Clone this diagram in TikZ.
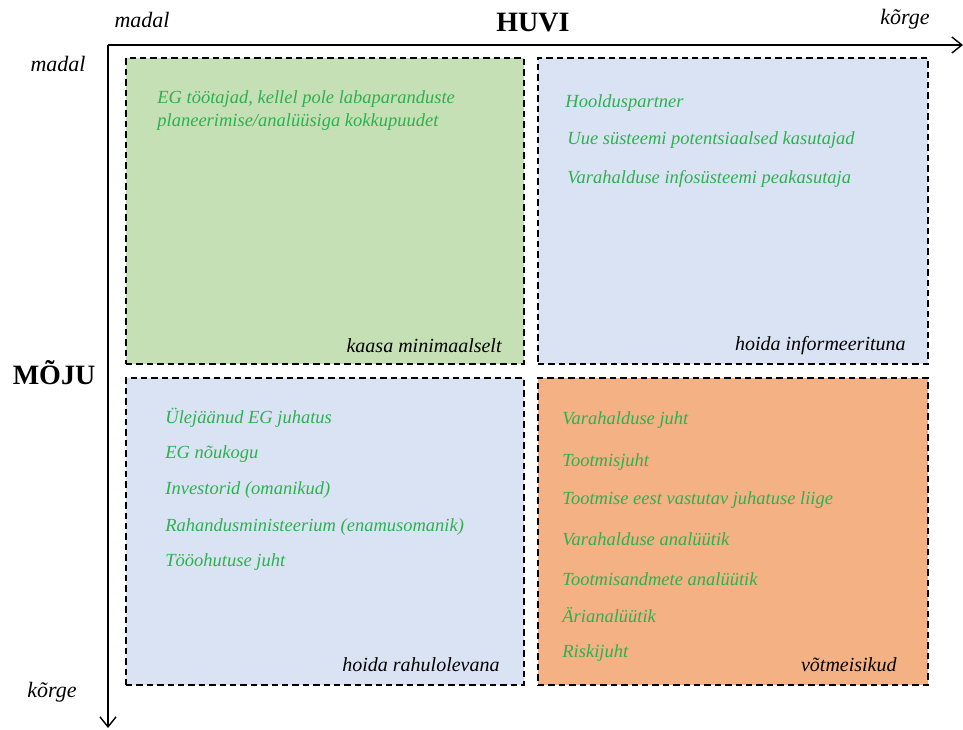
\documentclass[tikz,border=0pt]{standalone}
\usepackage{fontspec}
\setmainfont{Liberation Serif}
\usetikzlibrary{arrows.meta}
\definecolor{qgreen}{RGB}{197,224,180}
\definecolor{qblue}{RGB}{218,227,243}
\definecolor{qorange}{RGB}{244,177,131}
\definecolor{itemgreen}{RGB}{45,176,80}
\tikzset{
  quadbox/.style={draw=black, line width=1pt, dash pattern=on 3.2pt off 2pt,
    anchor=north west, inner sep=0pt},
  item/.style={anchor=west, inner sep=0pt, text=itemgreen,
    font=\fontsize{9.25}{11.5}\selectfont\itshape, align=left},
  corner/.style={anchor=east, inner sep=0pt, font=\fontsize{10}{12}\selectfont\itshape},
  axislabel/.style={inner sep=0pt, font=\fontsize{11}{13}\selectfont\itshape},
  axistitle/.style={inner sep=0pt, font=\fontsize{14}{16}\selectfont\bfseries},
  axisline/.style={line width=0.8pt, -{Straight Barb[length=5pt,width=8pt,line width=0.7pt]}}
}
\begin{document}
\begin{tikzpicture}[x=0.5pt,y=-0.5pt]
\useasboundingbox (0,0) rectangle (963,729);

% axes
\coordinate (origin) at (108,45);
\coordinate (xend) at (963,45);
\coordinate (yend) at (108,728);
\draw[axisline] (origin) -- (xend);
\draw[axisline] (origin) -- (yend);

% axis labels
\node[axistitle] (huvi) at (533,23) {HUVI};
\node[axistitle] (moju) at (54,373) {MÕJU};
\node[axislabel] (xlow) at (142,20) {madal};
\node[axislabel] (xhigh) at (905,19) {kõrge};
\node[axislabel] (ylow) at (58,64) {madal};
\node[axislabel] (yhigh) at (52,692) {kõrge};

% quadrants
\node[quadbox, fill=qgreen, minimum width=199pt, minimum height=153pt] (q1) at (125,57) {};
\node[quadbox, fill=qblue, minimum width=195pt, minimum height=153pt] (q2) at (537,57) {};
\node[quadbox, fill=qblue, minimum width=199pt, minimum height=153.5pt] (q3) at (125,377) {};
\node[quadbox, fill=qorange, minimum width=195pt, minimum height=153.5pt] (q4) at (537,377) {};

% quadrant titles
\node[corner] (t1) at (502,346) {kaasa minimaalselt};
\node[corner] (t2) at (906,346) {hoida informeerituna};
\node[corner] (t3) at (500,665) {hoida rahulolevana};
\node[corner] (t4) at (897,665) {võtmeisikud};

% stakeholders: low influence, low interest
\node[item] (a1) at (157,111) {EG töötajad, kellel pole labaparanduste\\planeerimise/analüüsiga kokkupuudet};

% low influence, high interest
\node[item] (b1) at (565,103) {Hoolduspartner};
\node[item] (b2) at (567,140) {Uue süsteemi potentsiaalsed kasutajad};
\node[item] (b3) at (567,179) {Varahalduse infosüsteemi peakasutaja};

% high influence, low interest
\node[item] (c1) at (165,418) {Ülejäänud EG juhatus};
\node[item] (c2) at (165,454) {EG nõukogu};
\node[item] (c3) at (165,490) {Investorid (omanikud)};
\node[item] (c4) at (165,527) {Rahandusministeerium (enamusomanik)};
\node[item] (c5) at (165,562) {Tööohutuse juht};

% high influence, high interest
\node[item] (d1) at (562,420) {Varahalduse juht};
\node[item] (d2) at (562,462) {Tootmisjuht};
\node[item] (d3) at (562,500) {Tootmise eest vastutav juhatuse liige};
\node[item] (d4) at (562,539) {Varahalduse analüütik};
\node[item] (d5) at (562,579) {Tootmisandmete analüütik};
\node[item] (d6) at (562,615) {Ärianalüütik};
\node[item] (d7) at (562,653) {Riskijuht};
\end{tikzpicture}
\end{document}
